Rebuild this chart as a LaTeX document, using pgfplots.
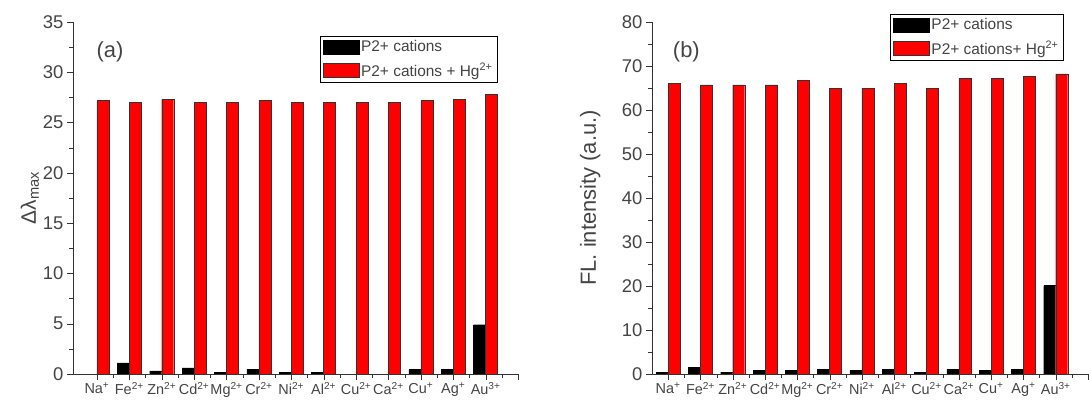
\documentclass[border=0pt]{standalone}
\usepackage{fontspec}
\setmainfont{Liberation Sans}
\usepackage{pgfplots}
\pgfplotsset{compat=1.18}

\definecolor{txt}{HTML}{444444}
\definecolor{barred}{HTML}{FF0000}

\pgfplotsset{
  panel/.style={
    anchor=south west, scale only axis, height=352bp,
    ybar=0pt, bar width=12bp,
    axis x line*=bottom, axis y line*=left,
    axis line style={-, black!80},
    tick align=outside, tick style={black!80},
    major tick length=6bp, minor tick length=4bp,
    minor x tick num=1,
    xtick={0,...,13},
    xticklabels={Na\textsuperscript{+},Fe\textsuperscript{2+},Zn\textsuperscript{2+},Cd\textsuperscript{2+},Mg\textsuperscript{2+},Cr\textsuperscript{2+},Ni\textsuperscript{2+},Al\textsuperscript{2+},Cu\textsuperscript{2+},Ca\textsuperscript{2+},Cu\textsuperscript{+},Ag\textsuperscript{+},Au\textsuperscript{3+},{}},
    x tick label style={font=\fontsize{14.5}{16}\selectfont, text=txt, yshift=1bp},
    y tick label style={font=\fontsize{18.5}{20}\selectfont, text=txt},
    /pgf/number format/assume math mode=true,
    minor y tick num=1,
    ymin=0, xmin=-0.74, xmax=13,
    legend cell align=left,
    legend image code/.code={\draw[#1] (0bp,-7bp) rectangle (36bp,7bp);},
    legend style={draw=black, font=\fontsize{15.5}{17}\selectfont, text=txt,
      inner sep=2.5bp, row sep=6bp, /tikz/every even column/.append style={column sep=2bp}},
  },
  blk/.style={fill=black, draw=black},
  rd/.style={fill=barred, draw=black!80, thin},
}

\begin{document}
\begin{tikzpicture}
\begin{axis}[panel, at={(73bp,28bp)}, width=445bp,
  ymax=35, ytick={0,5,...,35},
  ylabel={Δλ\textsubscript{max}},
  ylabel style={at={(axis description cs:-0.097,0.5)}, anchor=center, font=\fontsize{21}{22}\selectfont, text=txt},
  legend style={at={(0.953,0.96)}, anchor=north east},
]
\addplot[blk] coordinates {(0,0) (1,1.1) (2,0.3) (3,0.6) (4,0.15) (5,0.45) (6,0.15) (7,0.15) (8,0) (9,0) (10,0.45) (11,0.45) (12,4.9)};
\addlegendentry{P2+ cations}
\addplot[rd] coordinates {(0,27.2) (1,27.0) (2,27.3) (3,27.0) (4,27.0) (5,27.2) (6,27.0) (7,27.0) (8,27.0) (9,27.0) (10,27.2) (11,27.3) (12,27.8)};
\addlegendentry{P2+ cations + Hg\textsuperscript{2+}}
\node[anchor=west, font=\fontsize{22}{24}\selectfont, text=txt] at (axis description cs:0.045,0.915) {(a)};
\end{axis}

\begin{axis}[panel, at={(652bp,28bp)}, width=436bp,
  ymax=80, ytick={0,10,...,80}, xmin=-0.5,
  ylabel={FL. intensity (a.u.)},
  ylabel style={at={(axis description cs:-0.142,0.5)}, anchor=center, font=\fontsize{22}{24}\selectfont, text=txt},
  legend style={at={(0.943,1.023)}, anchor=north east},
]
\addplot[blk] coordinates {(0,0.4) (1,1.5) (2,0.4) (3,0.8) (4,0.8) (5,1.1) (6,0.8) (7,1.1) (8,0.4) (9,1.1) (10,0.8) (11,1.1) (12,20.1)};
\addlegendentry{P2+ cations}
\addplot[rd] coordinates {(0,66.1) (1,65.7) (2,65.7) (3,65.7) (4,66.8) (5,65.0) (6,65.0) (7,66.1) (8,65.0) (9,67.2) (10,67.2) (11,67.6) (12,68.2)};
\addlegendentry{P2+ cations+ Hg\textsuperscript{2+}}
\node[anchor=west, font=\fontsize{22}{24}\selectfont, text=txt] at (axis description cs:0.04,0.915) {(b)};
\end{axis}
\pgfresetboundingbox
\path (0,0) rectangle (1089bp,402bp);
\end{tikzpicture}
\end{document}
